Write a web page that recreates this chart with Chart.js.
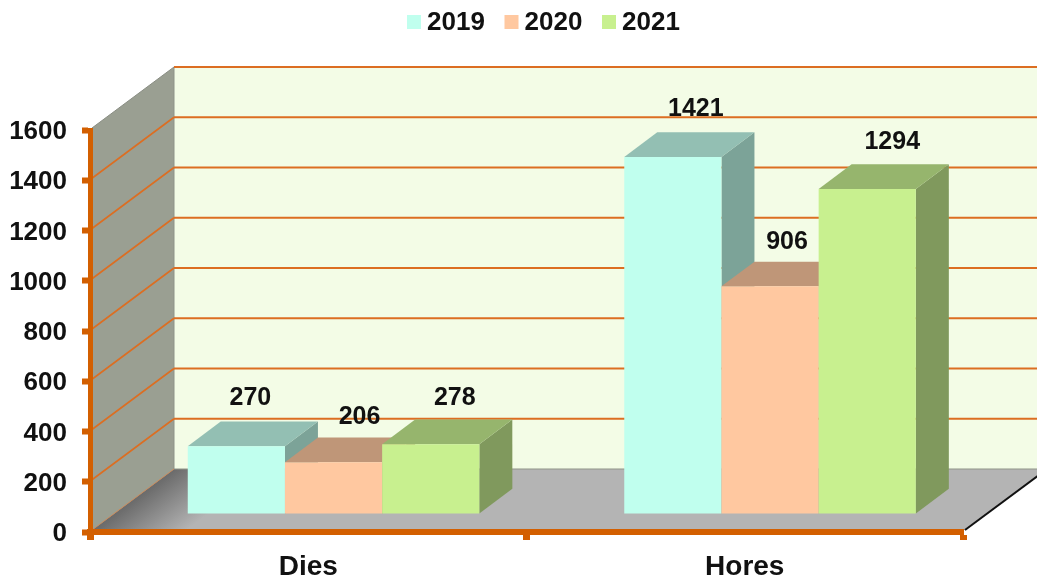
<!DOCTYPE html>
<html>
<head>
<meta charset="utf-8">
<style>html,body{margin:0;padding:0;background:#fff}canvas{display:block}</style>
<script src="https://cdn.jsdelivr.net/npm/chart.js@4"></script>
</head>
<body>
<canvas id="c" width="1037" height="581"></canvas>
<script>
const categories = ['Dies', 'Hores'];
const seriesNames = ['2019', '2020', '2021'];
const values2019 = [270, 1421];
const values2020 = [206, 906];
const values2021 = [278, 1294];
const yMax = 1600;
const yStep = 200;

const FONT = '"Liberation Sans", Arial, sans-serif';
const TEXT = '#111111';
const ORANGE = '#D35F00';
const GRID = '#DC6E22';
const fills = ['#C0FFEE', '#FFC8A0', '#C8F08F'];
const tops = ['#93BFB3', '#BF9678', '#96B56D'];
const sides = ['#7CA398', '#A3806A', '#80995D'];

// 3D projection constants (px)
const WALL = {dx: 82, dy: 61, gridLift: 2};
const BAR = {dx: 25.3, dy: 18, depthX: 33, depthY: 24.7};
// label placement relative to each bar's front-top centre: [dx, dy] per series, per category
const labelNudge = [
  [[14, -48], [23, -48]],
  [[26, -45], [17, -44]],
  [[24, -46], [25, -47]]
];

function poly(ctx, pts, fill) {
  ctx.beginPath();
  pts.forEach((p, i) => i ? ctx.lineTo(p[0], p[1]) : ctx.moveTo(p[0], p[1]));
  ctx.closePath();
  ctx.fillStyle = fill;
  ctx.fill();
}
function seg(ctx, pts, color, w) {
  ctx.beginPath();
  pts.forEach((p, i) => i ? ctx.lineTo(p[0], p[1]) : ctx.moveTo(p[0], p[1]));
  ctx.strokeStyle = color;
  ctx.lineWidth = w;
  ctx.stroke();
}

const stage3d = {
  id: 'stage3d',
  beforeDraw(chart) {
    const {ctx, scales: {y}, chartArea: a} = chart;
    const L = a.left + 2, R = a.right + 2;
    const b = y.getPixelForValue(0) - WALL.gridLift;
    const t = y.getPixelForValue(yMax) - WALL.gridLift;
    const {dx, dy} = WALL;
    ctx.save();
    ctx.fillStyle = '#fff';
    ctx.fillRect(0, 0, chart.width, chart.height);
    // back wall
    poly(ctx, [[L + dx, t - dy], [R + dx, t - dy], [R + dx, b - dy], [L + dx, b - dy]], '#F3FCE6');
    // side wall
    poly(ctx, [[L, t], [L + dx, t - dy], [L + dx, b - dy], [L, b]], '#9A9F92');
    seg(ctx, [[L + dx, t - dy], [L + dx, b - dy]], '#8E9288', 1);
    // floor
    const g = ctx.createLinearGradient(135, 500, 168, 544);
    g.addColorStop(0, '#6C6C6C');
    g.addColorStop(1, '#B4B4B4');
    poly(ctx, [[L, b], [L + dx, b - dy], [R + dx, b - dy], [R, b]], g);
    seg(ctx, [[L + dx, b - dy], [R + dx, b - dy]], '#8F9488', 1);
    seg(ctx, [[L, b], [L + dx, b - dy]], '#C98A5A', 1);
    seg(ctx, [[R, b], [R + dx, b - dy]], '#111', 2);
    // gridlines: thinner across the side wall, heavier along the back wall
    for (let v = yStep; v <= yMax; v += yStep) {
      const p = y.getPixelForValue(v) - WALL.gridLift;
      if (v < yMax) seg(ctx, [[L, p], [L + dx, p - dy]], GRID, 1.6);
      else seg(ctx, [[L, p], [L + dx, p - dy]], '#8A8E84', 1);
      seg(ctx, [[L + dx, p - dy], [R + dx, p - dy]], GRID, 2);
    }
    ctx.restore();
  },
  // Paint the series first to last so that each bar's front face covers the side of the one before it.
  beforeDatasetsDraw(chart) {
    const {ctx} = chart;
    chart.data.datasets.forEach((ds, i) => {
      const meta = chart.getDatasetMeta(i);
      ctx.save();
      ctx.translate(BAR.dx, -BAR.dy);
      meta.data.forEach(bar => {
        const xl = bar.x - bar.width / 2, xr = bar.x + bar.width / 2;
        const yt = bar.y, yb = bar.base;
        const {depthX: qx, depthY: qy} = BAR;
        poly(ctx, [[xr, yt], [xr + qx, yt - qy], [xr + qx, yb - qy], [xr, yb]], sides[i]);
        poly(ctx, [[xl, yt], [xl + qx, yt - qy], [xr + qx, yt - qy], [xr, yt]], tops[i]);
      });
      meta.controller.draw();
      ctx.restore();
    });
    return false;
  },
  afterDraw(chart) {
    const {ctx} = chart;
    ctx.save();
    // data labels
    ctx.font = 'bold 25px ' + FONT;
    ctx.fillStyle = TEXT;
    ctx.textAlign = 'center';
    ctx.textBaseline = 'middle';
    chart.data.datasets.forEach((ds, i) => {
      chart.getDatasetMeta(i).data.forEach((bar, j) => {
        const n = labelNudge[i][j];
        ctx.fillText(String(ds.data[j]), bar.x + BAR.dx + n[0], bar.y - BAR.dy + n[1]);
      });
    });
    // legend
    ctx.font = 'bold 26px ' + FONT;
    ctx.textAlign = 'left';
    chart.data.datasets.forEach((ds, i) => {
      const x = 407 + i * 97.5;
      ctx.fillStyle = ds.backgroundColor;
      ctx.fillRect(x, 15, 14, 14);
      ctx.fillStyle = TEXT;
      ctx.fillText(ds.label, x + 20, 23);
    });
    ctx.restore();
  }
};

const allValues = [values2019, values2020, values2021];
new Chart(document.getElementById('c'), {
  type: 'bar',
  data: {
    labels: categories,
    datasets: seriesNames.map((name, i) => ({
      label: name,
      data: allValues[i],
      backgroundColor: fills[i],
      clip: false,
      categoryPercentage: 0.668,
      barPercentage: 1
    }))
  },
  options: {
    responsive: false,
    animation: false,
    events: [],
    layout: {padding: {top: 130, left: 0, right: 74, bottom: 0}},
    plugins: {legend: {display: false}, tooltip: {enabled: false}},
    scales: {
      x: {
        afterFit: s => { s.height = 49; },
        border: {display: true, color: ORANGE, width: 6},
        grid: {drawOnChartArea: false, drawTicks: true, tickLength: 8, tickWidth: 7, tickColor: ORANGE, color: ORANGE},
        ticks: {color: TEXT, padding: 10, font: {family: FONT, weight: 'bold', size: 28}, maxRotation: 0}
      },
      y: {
        min: 0, max: yMax,
        afterFit: s => { s.width = 90; },
        border: {display: true, color: ORANGE, width: 5},
        grid: {drawOnChartArea: false, drawTicks: true, tickLength: 8, tickWidth: 6, tickColor: ORANGE, color: ORANGE},
        ticks: {stepSize: yStep, color: TEXT, padding: 15, labelOffset: 2, font: {family: FONT, weight: 'bold', size: 26}, callback: v => String(v)}
      }
    }
  },
  plugins: [stage3d]
});
</script>
</body>
</html>
